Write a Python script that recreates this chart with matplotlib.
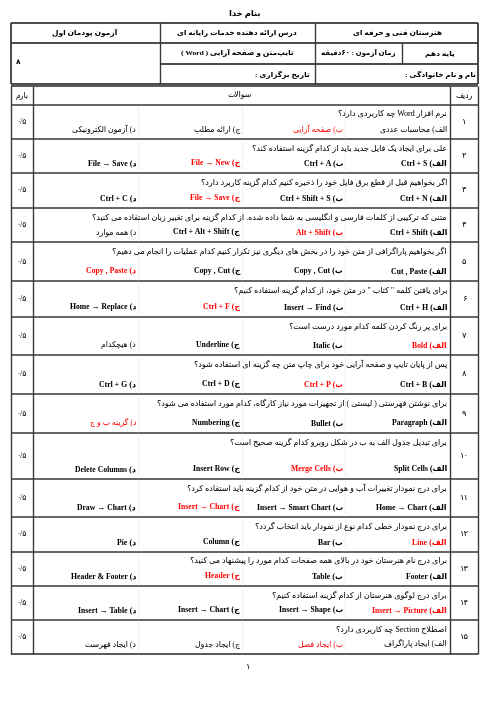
import re
import matplotlib
matplotlib.use("Agg")
import matplotlib.pyplot as plt

# ---------------- data ----------------
title = "بنام خدا"
header = ["هنرستان فنی و حرفه ای", "درس ارائه دهنده خدمات رایانه ای", "آزمون پودمان اول",
          "پایه دهم", "زمان آزمون : ۶۰دقیقه", "تایپ\u200cمتن و صفحه آرایی ( Word )", "۸",
          "نام و نام خانوادگی :", "تاریخ برگزاری :"]
col_titles = ["ردیف", "سوالات", "بارم"]
row_nums = ["۱", "۲", "۳", "۴", "۵", "۶", "۷", "۸", "۹", "۱۰", "۱۱", "۱۲", "۱۳", "۱۴", "۱۵"]
barem = ["۰/۵"] * 15
questions = [
    "نرم افزار Word چه کاربردی دارد؟",
    "علی برای ایجاد یک فایل جدید باید از کدام گزینه استفاده کند؟",
    "اگر بخواهیم قبل از قطع برق فایل خود را ذخیره کنیم کدام گزینه کاربرد دارد؟",
    "متنی که ترکیبی از کلمات فارسی و انگلیسی به شما داده شده. از کدام گزینه برای تغییر زبان استفاده می کنید؟",
    "اگر بخواهیم پاراگرافی از متن خود را در بخش های دیگری نیز تکرار کنیم کدام عملیات را انجام می دهیم؟",
    "برای یافتن کلمه \" کتاب \" در متن خود، از کدام گزینه استفاده کنیم؟",
    "برای پر رنگ کردن کلمه کدام مورد درست است؟",
    "پس از پایان تایپ و صفحه آرایی خود برای چاپ متن چه گزینه ای استفاده شود؟",
    "برای نوشتن فهرستی ( لیستی ) از تجهیزات مورد نیاز کارگاه، کدام مورد استفاده می شود؟",
    "برای تبدیل جدول الف به ب در شکل روبرو کدام گزینه صحیح است؟",
    "برای درج نمودار تغییرات آب و هوایی در متن خود از کدام گزینه باید استفاده کرد؟",
    "برای درج نمودار خطی کدام نوع از نمودار باید انتخاب گردد؟",
    "برای درج نام هنرستان خود در بالای همه صفحات کدام مورد را پیشنهاد می کنید؟",
    "برای درج لوگوی هنرستان از کدام گزینه استفاده کنیم؟",
    "اصطلاح Section چه کاربردی دارد؟",
]
options = [
    ["الف) محاسبات عددی", "ب) صفحه آرایی", "ج) ارائه مطلب", "د) آزمون الکترونیکی"],
    ["الف) Ctrl + S", "ب) Ctrl + A", "ج) File → New", "د) File → Save"],
    ["الف) Ctrl + N", "ب) Ctrl + Shift + S", "ج) File → Save", "د) Ctrl + C"],
    ["الف) Ctrl + Shift", "ب) Alt + Shift", "ج) Ctrl + Alt + Shift", "د) همه موارد"],
    ["الف) Cut , Paste", "ب) Copy , Cut", "ج) Copy , Cut", "د) Copy , Paste"],
    ["الف) Ctrl + H", "ب) Insert → Find", "ج) Ctrl + F", "د) Home → Replace"],
    ["الف) Bold", "ب) Italic", "ج) Underline", "د) هیچکدام"],
    ["الف) Ctrl + B", "ب) Ctrl + P", "ج) Ctrl + D", "د) Ctrl + G"],
    ["الف) Paragraph", "ب) Bullet", "ج) Numbering", "د) گزینه ب و ج"],
    ["الف) Split Cells", "ب) Merge Cells", "ج) Insert Row", "د) Delete Columns"],
    ["الف) Home → Chart", "ب) Insert → Smart Chart", "ج) Insert → Chart", "د) Draw → Chart"],
    ["الف) Line", "ب) Bar", "ج) Column", "د) Pie"],
    ["الف) Footer", "ب) Table", "ج) Header", "د) Header & Footer"],
    ["الف) Insert → Picture", "ب) Insert → Shape", "ج) Insert → Chart", "د) Insert → Table"],
    ["الف) ایجاد پاراگراف", "ب) ایجاد فصل", "ج) ایجاد جدول", "د) ایجاد فهرست"],
]
answers = [1, 2, 2, 1, 3, 2, 0, 1, 3, 1, 2, 0, 2, 0, 1]
page_no = "۱"

# ---------------- minimal Arabic/Persian shaping ----------------
F4 = {'ئ': 0xFE89, 'ب': 0xFE8F, 'ت': 0xFE95, 'ث': 0xFE99, 'ج': 0xFE9D, 'ح': 0xFEA1, 'خ': 0xFEA5,
      'س': 0xFEB1, 'ش': 0xFEB5, 'ص': 0xFEB9, 'ض': 0xFEBD, 'ط': 0xFEC1, 'ظ': 0xFEC5, 'ع': 0xFEC9,
      'غ': 0xFECD, 'ف': 0xFED1, 'ق': 0xFED5, 'ل': 0xFEDD, 'م': 0xFEE1, 'ن': 0xFEE5, 'ه': 0xFEE9,
      'پ': 0xFB56, 'چ': 0xFB7A, 'ک': 0xFB8E, 'گ': 0xFB92, 'ی': 0xFBFC}
F2 = {'آ': 0xFE81, 'أ': 0xFE83, 'ؤ': 0xFE85, 'إ': 0xFE87, 'ا': 0xFE8D, 'د': 0xFEA9, 'ذ': 0xFEAB,
      'ر': 0xFEAD, 'ز': 0xFEAF, 'و': 0xFEED, 'ژ': 0xFB8A}


def dual(c):
    return c in F4


def joins(c):
    return c in F4 or c in F2


def shape(s):
    out = []
    i = 0
    n = len(s)
    while i < n:
        c = s[i]
        prev = s[i - 1] if i > 0 else ''
        nxt = s[i + 1] if i + 1 < n else ''
        pc = dual(prev)
        if c == 'ل' and nxt in ('ا', 'آ'):
            base = 0xFEFB if nxt == 'ا' else 0xFEF5
            out.append(chr(base + (1 if pc else 0)))
            i += 2
            continue
        if c in F4:
            nc = joins(nxt)
            b = F4[c]
            if pc and nc:
                out.append(chr(b + 3))
            elif pc:
                out.append(chr(b + 1))
            elif nc:
                out.append(chr(b + 2))
            else:
                out.append(chr(b))
        elif c in F2:
            out.append(chr(F2[c] + (1 if pc else 0)))
        else:
            out.append(c)
        i += 1
    return ''.join(out)


MIRROR = {'(': ')', ')': '(', '«': '»', '»': '«'}
LTR = re.compile(r'[A-Za-z0-9][A-Za-z0-9 +→&,.\-]*[A-Za-z0-9]|[A-Za-z0-9]|[۰-۹][۰-۹/]*[۰-۹]|[۰-۹]')


def vis(s):
    s2 = ''.join(shape(p) for p in s.split('\u200c'))
    runs = []
    pos = 0
    for m in LTR.finditer(s2):
        if m.start() > pos:
            runs.append(('r', s2[pos:m.start()]))
        runs.append(('l', m.group()))
        pos = m.end()
    if pos < len(s2):
        runs.append(('r', s2[pos:]))
    res = ''
    for kind, t in reversed(runs):
        if kind == 'l':
            res += t
        else:
            res += ''.join(MIRROR.get(ch, ch) for ch in reversed(t))
    return res


# ---------------- drawing ----------------
W, H = 496, 702
fig = plt.figure(figsize=(W / 100, H / 100), dpi=100)
ax = fig.add_axes([0, 0, 1, 1])
ax.set_xlim(0, W)
ax.set_ylim(H, 0)
ax.axis('off')

FAM = ['Liberation Serif', 'DejaVu Sans']
LC = '#3a3a3a'


def T(x, y, s, ha='right', size=5.6, color='black', bold=False):
    ax.text(x, y, vis(s), ha=ha, va='center', fontsize=size, color=color,
            family=FAM, fontweight='bold' if bold else 'normal')


def hline(y, x0, x1, lw=0.9, c=LC):
    ax.plot([x0, x1], [y, y], color=c, lw=lw, solid_capstyle='butt')


def vline(x, y0, y1, lw=0.9, c=LC):
    ax.plot([x, x], [y0, y1], color=c, lw=lw, solid_capstyle='butt')


T(245, 14, title, ha='center', size=6, bold=True)

# header table
hx0, hx1 = 11, 478
for y in [23, 43, 84]:
    hline(y, hx0, hx1, lw=1.3)
hline(64, 160, hx1, lw=1.3)
vline(hx0, 23, 84, lw=1.3)
vline(hx1, 23, 84, lw=1.3)
vline(160, 23, 84, lw=1.0)
vline(315, 23, 84, lw=1.0)
vline(402, 43, 64, lw=1.0)
T(398, 33, header[0], ha='center', size=5.4, bold=True)
T(237, 33, header[1], ha='center', size=5.4, bold=True)
T(85, 33, header[2], ha='center', size=5.4, bold=True)
T(440, 54, header[3], ha='center', size=5.4, bold=True)
T(358, 53, header[4], ha='center', size=5.0, bold=True)
T(237, 53, header[5], ha='center', size=5.4, bold=True)
T(18, 63, header[6], ha='center', size=5.4, bold=True)
T(476, 75, header[7], ha='right', size=5.4, bold=True)
T(310, 75, header[8], ha='right', size=5.4, bold=True)

# main table
tx0, tx1 = 11, 478
cb, cq = 33, 450
tops = [86, 105, 139, 173, 208, 242, 281, 317, 355, 394, 433, 479, 517, 552, 586, 620, 654]
hline(tops[0], tx0, tx1, lw=1.2)
for y in tops[1:-1]:
    hline(y, tx0, tx1, lw=1.1)
hline(tops[-1], tx0, tx1, lw=1.2)
for x in (tx0, cb, cq, tx1):
    vline(x, tops[0], tops[-1], lw=1.0)
T(464, 96, col_titles[0], ha='center', size=5.6)
T(240, 94, col_titles[1], ha='center', size=5.6)
T(22, 96, col_titles[2], ha='center', size=5.6)

opt_x = [447, 343, 240, 136]
for i in range(15):
    top, bot = tops[i + 1], tops[i + 2]
    mid = (top + bot) / 2
    for x in (138, 242, 345):
        vline(x, top + 1, bot - 1, lw=0.4, c='#e6e6e6')
    T(464, mid, row_nums[i], ha='center', size=6)
    T(22, mid, barem[i], ha='center', size=5.6)
    T(447, top + 9, questions[i], ha='right', size=5.8)
    for j in range(4):
        col = 'red' if answers[i] == j else 'black'
        has_latin = re.search(r'[A-Za-z]', options[i][j]) is not None
        T(opt_x[j], bot - 10, options[i][j], ha='right', size=5.6, color=col, bold=has_latin)

T(248, 667, page_no, ha='center', size=6)

fig.savefig('out.png', dpi=100)
